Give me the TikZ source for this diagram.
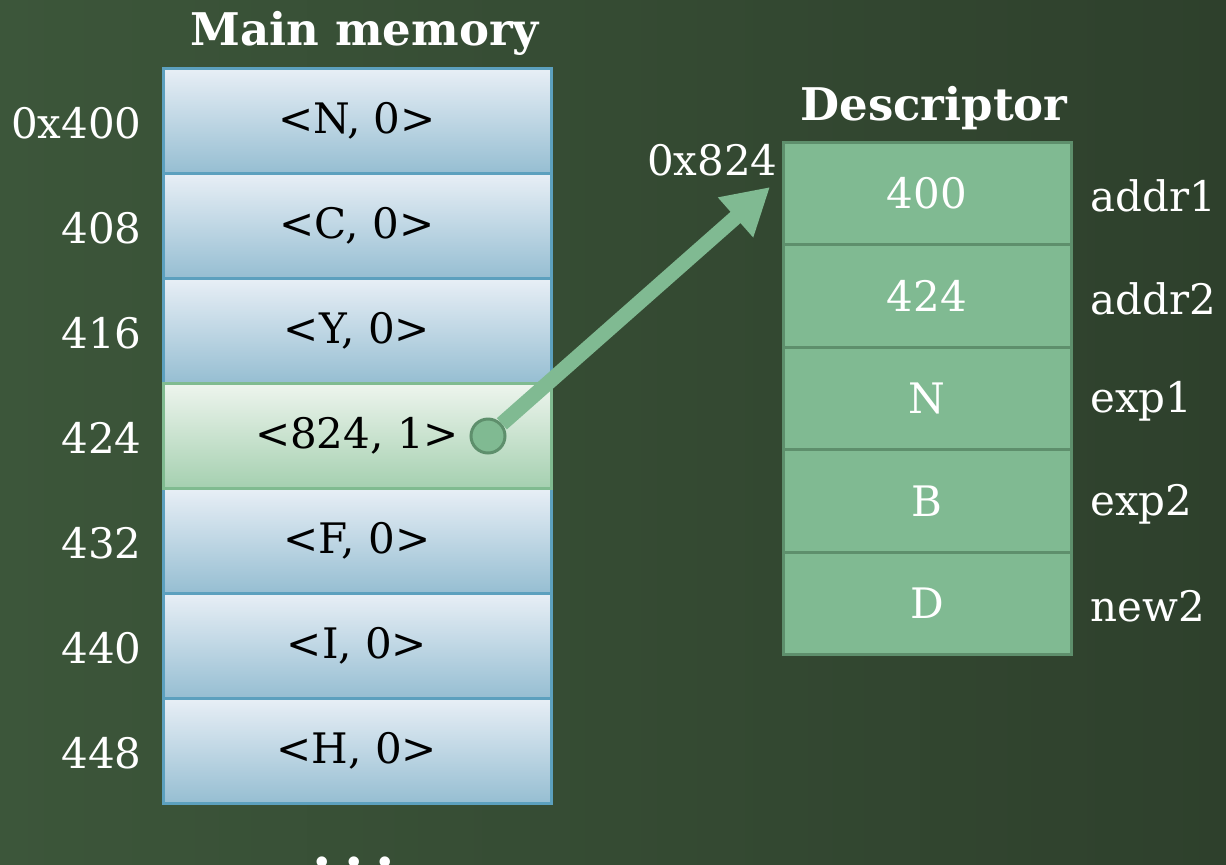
\documentclass[tikz,border=0pt]{standalone}
\usepackage{fontspec}
\setmainfont{DejaVu Serif}
\usetikzlibrary{arrows.meta}

\definecolor{bgleft}{RGB}{60,86,58}
\definecolor{bgmid}{RGB}{38,54,38}
\definecolor{bgright}{RGB}{46,64,44}
\definecolor{celltop}{RGB}{232,239,246}
\definecolor{cellbot}{RGB}{150,190,210}
\definecolor{cellline}{RGB}{92,160,190}
\definecolor{hottop}{RGB}{238,245,238}
\definecolor{hotbot}{RGB}{165,208,176}
\definecolor{hotline}{RGB}{128,187,144}
\definecolor{descfill}{RGB}{128,186,146}
\definecolor{descline}{RGB}{94,143,108}

\begin{document}
\begin{tikzpicture}[x=0.5pt, y=-0.5pt,
	every node/.style={font=\fontsize{21}{25}\selectfont},
	memcell/.style={draw=cellline, line width=1.5pt, rectangle,
		minimum width=194pt, minimum height=52.5pt, inner sep=0pt,
		top color=celltop, bottom color=cellbot, text=black},
	hotcell/.style={memcell, draw=hotline, top color=hottop, bottom color=hotbot},
	desccell/.style={draw=descline, line width=1.5pt, rectangle, fill=descfill,
		minimum width=144pt, minimum height=51.3pt, inner sep=0pt, text=white},
	addr/.style={anchor=east, inner sep=0pt, text=white},
	field/.style={anchor=west, inner sep=0pt, text=white},
	title/.style={text=white, font=\fontsize{22.5}{26}\selectfont\bfseries}]

	\def \memx {357}
	\def \descx {927}

	% background
	\useasboundingbox (0,0) rectangle (1226,864);
	\fill[left color=bgleft, middle color=bgmid, right color=bgright]
		(0,0) rectangle (1226,864);

	% main memory
	\node[title] (memtitle) at (365,33) {Main memory};

	\node[memcell] (m400) at (\memx,120.5) {<N, 0>};
	\node[memcell] (m408) at (\memx,225.5) {<C, 0>};
	\node[memcell] (m416) at (\memx,330.5) {<Y, 0>};
	\node[memcell] (m432) at (\memx,540.5) {<F, 0>};
	\node[memcell] (m440) at (\memx,645.5) {<I, 0>};
	\node[memcell] (m448) at (\memx,750.5) {<H, 0>};
	\node[hotcell] (m424) at (\memx,435.5) {<824, 1>\hspace{46pt}};

	\node[addr] (a400) at (142,123) {0x400};
	\node[addr] (a408) at (142,228) {408};
	\node[addr] (a416) at (142,333) {416};
	\node[addr] (a424) at (142,438) {424};
	\node[addr] (a432) at (142,543) {432};
	\node[addr] (a440) at (142,648) {440};
	\node[addr] (a448) at (142,753) {448};

	\node[title, anchor=base, font=\fontsize{28}{30}\selectfont\bfseries]
		(more) at (354,866) {.\hspace{6pt}.\hspace{6pt}.};

	% descriptor
	\node[title] (desctitle) at (934,108) {Descriptor};
	\node[addr] (a824) at (778,160) {0x824};

	\node[desccell] (d1) at (\descx,193.5) {400};
	\node[desccell] (d2) at (\descx,296) {424};
	\node[desccell] (d3) at (\descx,398.5) {N};
	\node[desccell] (d4) at (\descx,501) {B};
	\node[desccell] (d5) at (\descx,603.5) {D};

	\node[field] (f1) at (1090,196) {addr1};
	\node[field] (f2) at (1090,299) {addr2};
	\node[field] (f3) at (1090,401) {exp1};
	\node[field] (f4) at (1090,504) {exp2};
	\node[field] (f5) at (1090,606) {new2};

	% pointer
	\coordinate (tip) at (770,187);
	\node[circle, draw=descline, line width=1.5pt, fill=descfill,
		minimum size=17pt, inner sep=0pt] (ptr) at (488,436) {};
	\draw[-{Triangle[width=25pt, length=23pt]}, line width=7.5pt, descfill]
		(ptr) -- (tip);
\end{tikzpicture}
\end{document}
